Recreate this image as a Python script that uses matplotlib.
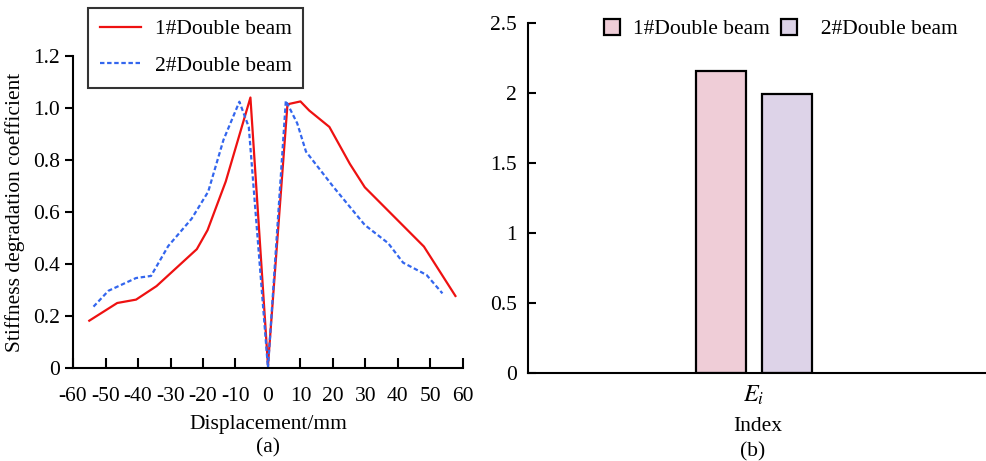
import matplotlib
matplotlib.use("Agg")
import matplotlib.pyplot as plt
from matplotlib.ticker import FuncFormatter

plt.rcParams['font.family'] = ['Liberation Serif', 'DejaVu Serif']
plt.rcParams['mathtext.fontset'] = 'stix'
plt.rcParams['axes.unicode_minus'] = False

# ---- data (a) ----
x1 = [-55.0, -46.4, -40.6, -34.3, -21.9, -18.6, -13.0, -5.4, 0.0, 6.0, 10.0, 12.7, 18.9, 25.2, 29.8, 48.0, 57.7]
y1 = [0.182, 0.25, 0.263, 0.315, 0.457, 0.53, 0.717, 1.04, 0.01, 1.014, 1.025, 0.99, 0.927, 0.785, 0.695, 0.467, 0.277]
x2 = [-53.7, -49.1, -40.6, -36.0, -30.7, -23.5, -18.4, -13.7, -8.8, -5.9, 0.0, 5.5, 9.0, 11.7, 20.1, 29.8, 37.0, 41.6, 48.8, 53.7]
y2 = [0.236, 0.297, 0.346, 0.354, 0.469, 0.574, 0.678, 0.877, 1.024, 0.926, 0.0, 1.028, 0.941, 0.832, 0.697, 0.55, 0.48, 0.405, 0.358, 0.287]
series_names = ['1#Double beam', '2#Double beam']
xticks_a = [-60, -50, -40, -30, -20, -10, 0, 10, 20, 30, 40, 50, 60]
yticks_a = [0, 0.2, 0.4, 0.6, 0.8, 1.0, 1.2]

# ---- data (b) ----
bar_category = [r'$E_i$']
bar_values = [2.157, 1.993]
yticks_b = [0, 0.5, 1, 1.5, 2, 2.5]

fig = plt.figure(figsize=(9.87, 4.61), dpi=100)
fs = 15.5

# ---------- (a) ----------
ax = fig.add_axes([0.074, 0.2017, 0.395, 0.677])
l1, = ax.plot(x1, y1, color='#ee1111', lw=1.6, label=series_names[0])
l2, = ax.plot(x2, y2, color='#3366ee', lw=1.6, ls=(0, (2, 1.2)), label=series_names[1])
ax.set_xlim(-60, 60)
ax.set_ylim(0, 1.2)
ax.set_xticks(xticks_a)
ax.set_yticks(yticks_a)
ax.yaxis.set_major_formatter(FuncFormatter(lambda v, p: '0' if v == 0 else f'{v:.1f}'))
for s in ['top', 'right']:
    ax.spines[s].set_visible(False)
for s in ['left', 'bottom']:
    ax.spines[s].set_linewidth(1.5)
ax.tick_params(axis='x', direction='in', length=7, width=1.5, labelsize=fs, pad=14)
ax.tick_params(axis='y', direction='out', length=6, width=1.5, labelsize=fs)
ax.set_xlabel('Displacement/mm', fontsize=fs, labelpad=6)
ax.set_ylabel('Stiffness degradation coefficient', fontsize=fs, labelpad=6)
ax.text(0.5, -0.225, '(a)', transform=ax.transAxes, ha='center', va='top', fontsize=fs)
leg = ax.legend(handles=[l1, l2], loc='upper left', bbox_to_anchor=(0.038, 1.155),
                fontsize=fs, frameon=True, fancybox=False, edgecolor='black',
                handlelength=1.9, handletextpad=0.65, borderpad=0.55, labelspacing=0.75,
                borderaxespad=0)
leg.get_frame().set_linewidth(1.5)
leg.set_clip_on(False)

# ---------- (b) ----------
bx = fig.add_axes([0.535, 0.1915, 0.465, 0.7593])
colors_b = ['#efcdd7', '#ddd3e8']
offsets = [-0.2, 0.2]
for i in range(2):
    bx.bar([0 + offsets[i]], [bar_values[i]], width=0.3, color=colors_b[i],
           edgecolor='black', linewidth=1.6, label=(' ' * 2 * i) + series_names[i])
bx.set_xlim(-1.356, 1.4)
bx.set_ylim(0, 2.5)
bx.set_yticks(yticks_b)
bx.yaxis.set_major_formatter(FuncFormatter(lambda v, p: f'{v:g}'))
bx.set_xticks([0])
bx.set_xticklabels(bar_category, fontsize=fs + 2)
for s in ['top', 'right']:
    bx.spines[s].set_visible(False)
for s in ['left', 'bottom']:
    bx.spines[s].set_linewidth(1.5)
bx.tick_params(axis='x', length=0, pad=8)
bx.tick_params(axis='y', direction='in', length=6, width=1.5, labelsize=fs, pad=8)
bx.set_xlabel('Index', fontsize=fs, labelpad=7)
bx.text(0.49, -0.2, '(b)', transform=bx.transAxes, ha='center', va='top', fontsize=fs)
leg2 = bx.legend(loc='upper left', bbox_to_anchor=(0.147, 1.035), ncol=2, fontsize=fs,
                 frameon=False, handlelength=0.75, handleheight=0.75, columnspacing=0.5,
                 handletextpad=0.6, borderaxespad=0)

fig.savefig('out.png', dpi=100)
